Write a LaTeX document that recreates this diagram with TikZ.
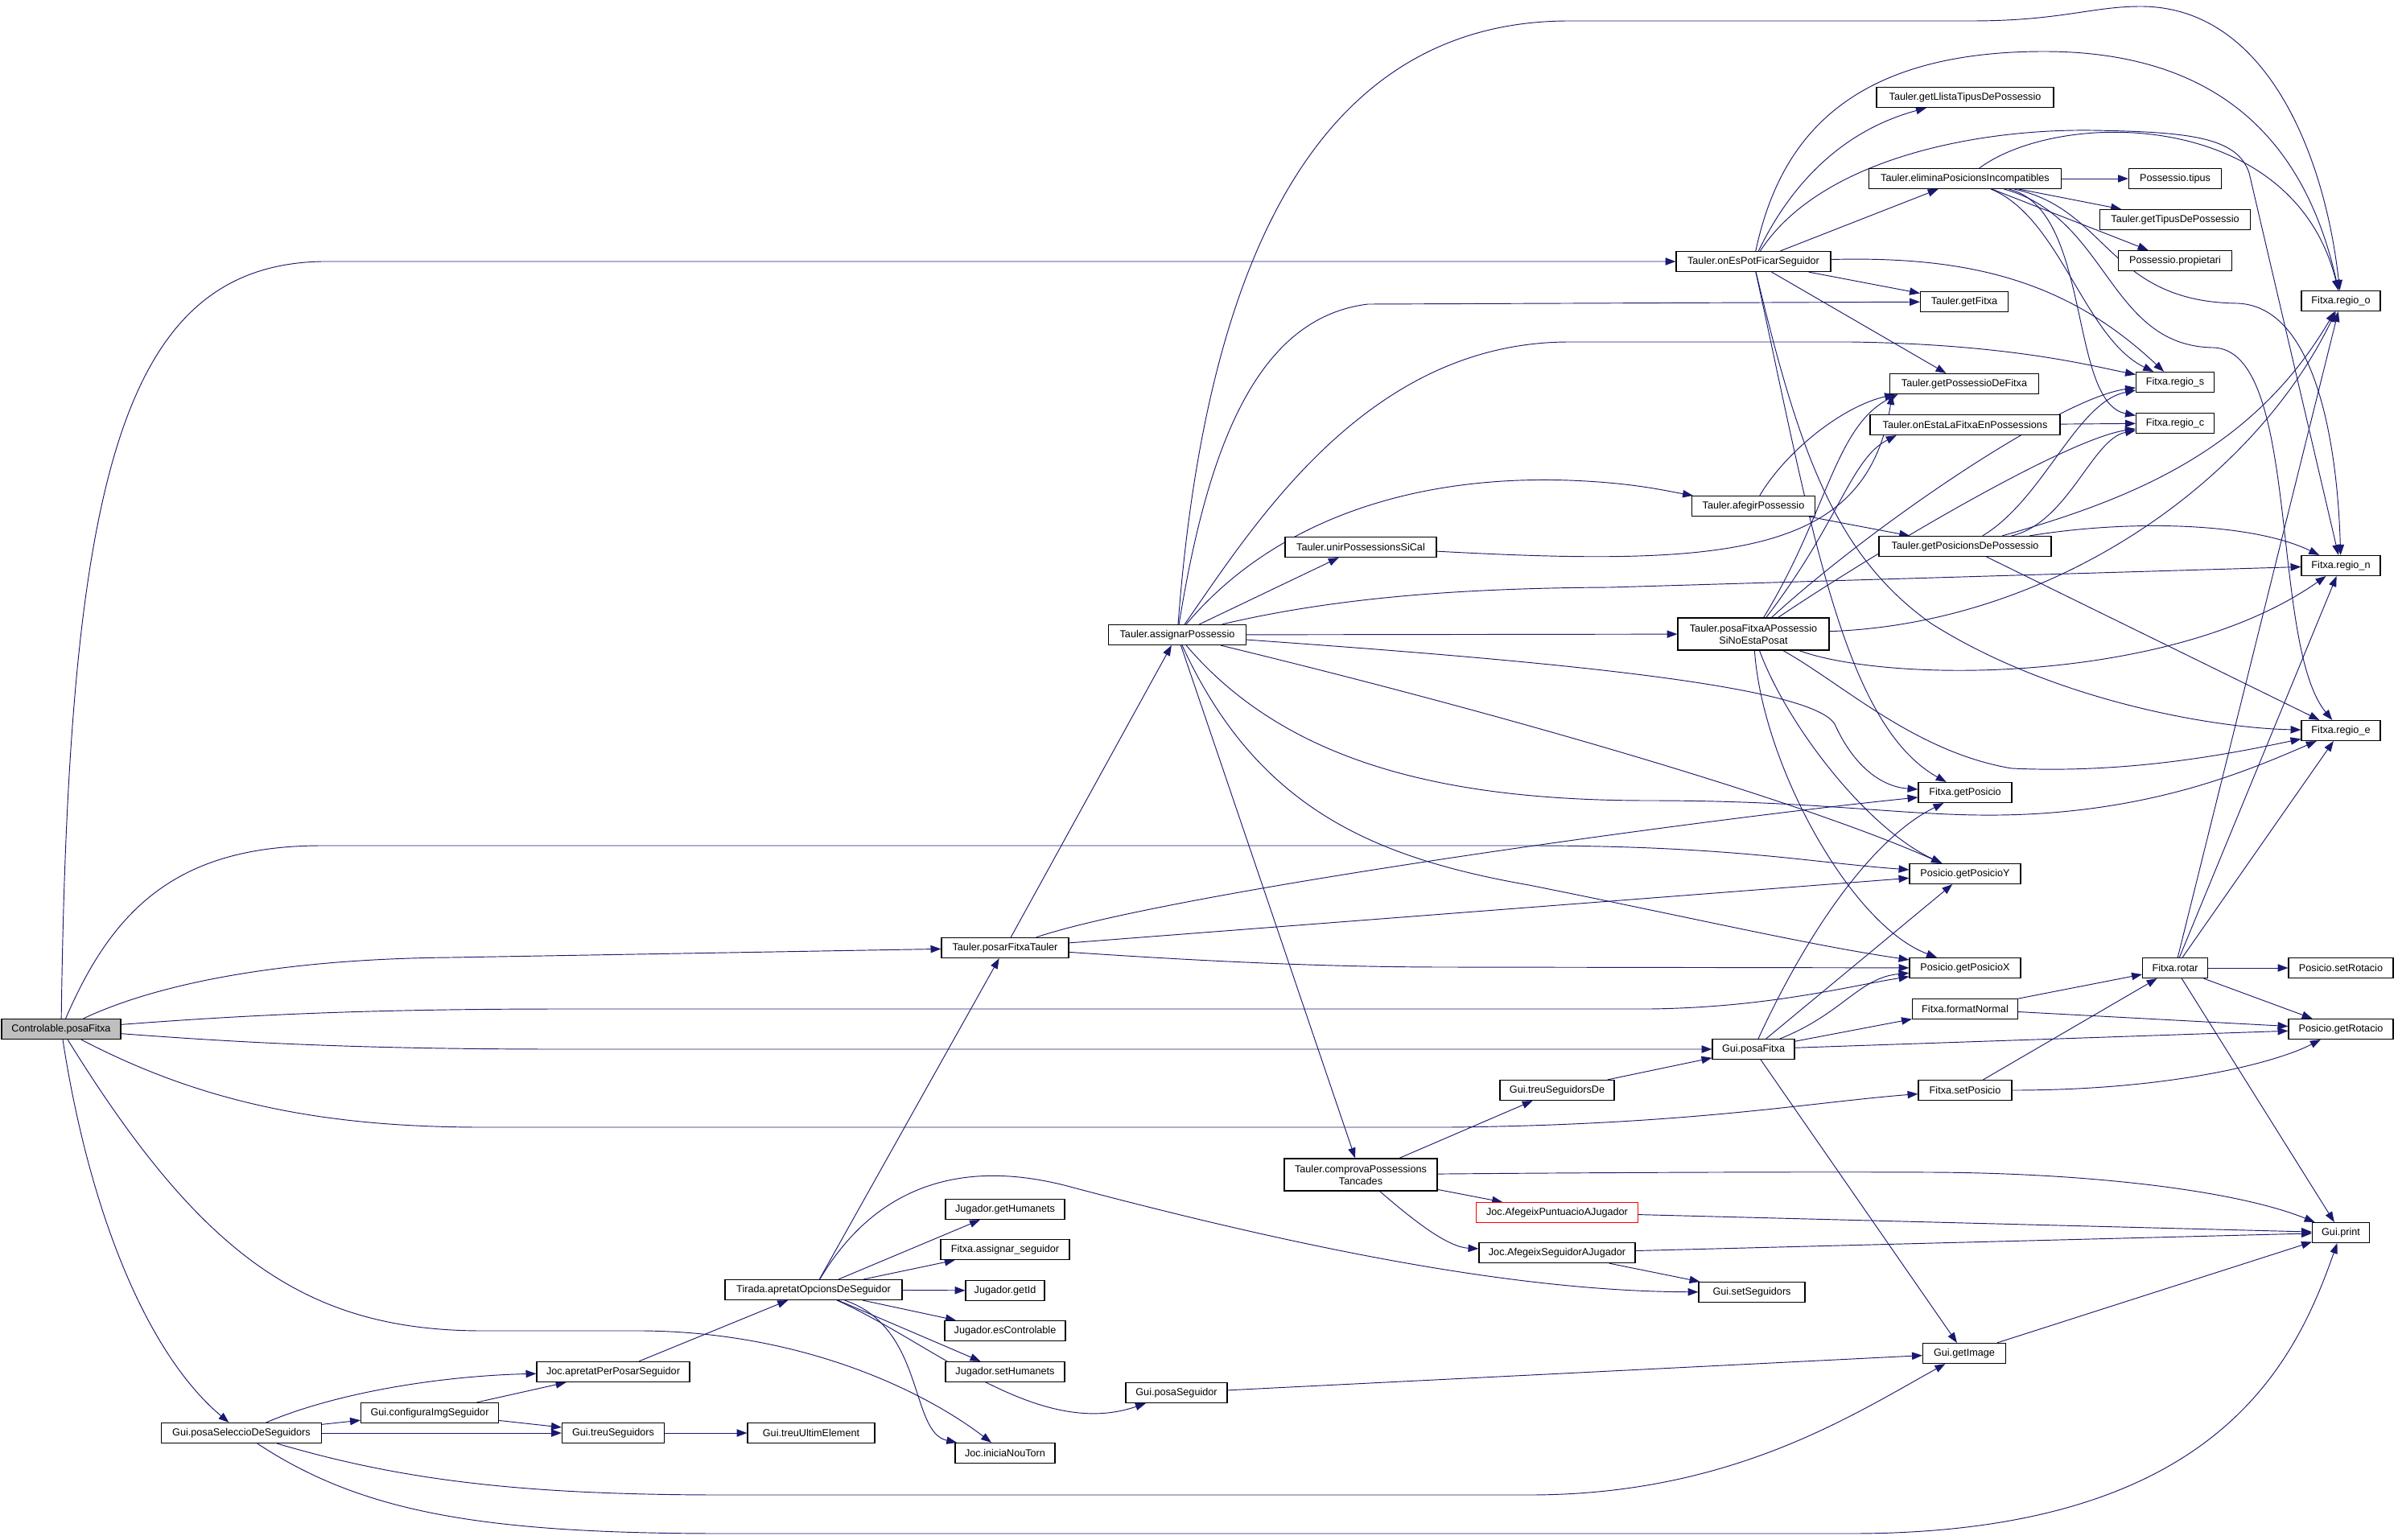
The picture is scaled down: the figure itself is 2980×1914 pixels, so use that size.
\documentclass[tikz,border=0pt]{standalone}
\usepackage{fontspec}
\setmainfont{Liberation Sans}
\usetikzlibrary{arrows.meta,backgrounds}
\definecolor{edgeblue}{HTML}{191970}
\tikzset{
  func/.style={draw=black, line width=1pt, fill=white, inner xsep=2pt, inner ysep=0pt,
    minimum height=0.75cm, font=\fontsize{10.8}{12.8}\selectfont},
  func2/.style={func, minimum height=1.2cm, align=center},
  callarrow/.style={draw=edgeblue, line width=0.8pt, -{Triangle[length=11pt,width=8pt]}},
}
\begin{document}
\begin{tikzpicture}[x=0.03cm, y=-0.03cm]
  \useasboundingbox (0,0) rectangle (2980,1914);
  % callers
  \node[func, fill=black!25, minimum width=4.44cm] (C) at (76,1279) {Controlable.posaFitxa};
  \node[func, minimum width=5.97cm] (GPS) at (300,1781) {Gui.posaSeleccioDeSeguidors};
  \node[func, minimum width=5.13cm] (cfg) at (534,1756) {Gui.configuraImgSeguidor};
  \node[func, minimum width=5.7cm] (apr) at (762,1705) {Joc.apretatPerPosarSeguidor};
  \node[func, minimum width=3.81cm] (treuS) at (762,1781) {Gui.treuSeguidors};
  \node[func, minimum width=4.74cm] (treuU) at (1008,1781) {Gui.treuUltimElement};
  \node[func, minimum width=6.6cm] (T) at (1011,1603) {Tirada.apretatOpcionsDeSeguidor};
  \node[func, minimum width=4.74cm] (P) at (1249,1178) {Tauler.posarFitxaTauler};
  \node[func, minimum width=5.13cm] (A) at (1463,789) {Tauler.assignarPossessio};
  \node[func, minimum width=5.64cm] (unir) at (1691,680) {Tauler.unirPossessionsSiCal};
  \node[func2, minimum width=5.7cm] (CT) at (1691,1460) {Tauler.comprovaPossessions\\Tancades};
  % Jugador column
  \node[func, minimum width=4.44cm] (jgh) at (1249,1503) {Jugador.getHumanets};
  \node[func, minimum width=4.8cm] (asg) at (1249,1553) {Fitxa.assignar\_seguidor};
  \node[func, minimum width=2.94cm] (gid) at (1249,1604) {Jugador.getId};
  \node[func, minimum width=4.5cm] (esc) at (1249,1654) {Jugador.esControlable};
  \node[func, minimum width=4.44cm] (jsh) at (1249,1705) {Jugador.setHumanets};
  \node[func, minimum width=3.72cm] (ini) at (1249,1806) {Joc.iniciaNouTorn};
  \node[func, minimum width=3.78cm] (pseg) at (1462,1731) {Gui.posaSeguidor};
  \node[func, minimum width=4.26cm] (tsd) at (1935,1355) {Gui.treuSeguidorsDe};
  \node[func, draw=red, minimum width=6.03cm] (apj) at (1935,1507) {Joc.AfegeixPuntuacioAJugador};
  \node[func, minimum width=5.82cm] (asj) at (1935,1557) {Joc.AfegeixSeguidorAJugador};
  % Tauler column
  \node[func, minimum width=5.76cm] (OE) at (2179,325) {Tauler.onEsPotFicarSeguidor};
  \node[func, minimum width=4.59cm] (AF) at (2179,629) {Tauler.afegirPossessio};
  \node[func2, minimum width=5.64cm] (PF) at (2179,788) {Tauler.posaFitxaAPossessio\\SiNoEstaPosat};
  \node[func, minimum width=3.06cm] (GF) at (2179,1304) {Gui.posaFitxa};
  \node[func, minimum width=3.96cm] (ss) at (2177,1606) {Gui.setSeguidors};
  \node[func, minimum width=6.6cm] (gll) at (2442,121) {Tauler.getLlistaTipusDePossessio};
  \node[func, minimum width=7.17cm] (EP) at (2442,222) {Tauler.eliminaPosicionsIncompatibles};
  \node[func, minimum width=3.27cm] (gfx) at (2441,375) {Tauler.getFitxa};
  \node[func, minimum width=5.55cm] (gpf) at (2441,477) {Tauler.getPossessioDeFitxa};
  \node[func, minimum width=7.08cm] (oel) at (2442,528) {Tauler.onEstaLaFitxaEnPossessions};
  \node[func, minimum width=6.42cm] (GP) at (2442,679) {Tauler.getPosicionsDePossessio};
  \node[func, minimum width=3.48cm] (gpo) at (2442,985) {Fitxa.getPosicio};
  \node[func, minimum width=4.14cm] (gpy) at (2442,1086) {Posicio.getPosicioY};
  \node[func, minimum width=4.14cm] (gpx) at (2442,1203) {Posicio.getPosicioX};
  \node[func, minimum width=3.93cm] (fnorm) at (2442,1254) {Fitxa.formatNormal};
  \node[func, minimum width=3.48cm] (sp) at (2442,1355) {Fitxa.setPosicio};
  \node[func, minimum width=3.09cm] (gim) at (2441,1682) {Gui.getImage};
  % leaves
  \node[func, minimum width=3.45cm] (tip) at (2703,222) {Possessio.tipus};
  \node[func, minimum width=5.61cm] (gtp) at (2703,273) {Tauler.getTipusDePossessio};
  \node[func, minimum width=4.23cm] (prop) at (2703,324) {Possessio.propietari};
  \node[func, minimum width=2.91cm] (rs) at (2703,475) {Fitxa.regio\_s};
  \node[func, minimum width=2.91cm] (rc) at (2703,526) {Fitxa.regio\_c};
  \node[func, minimum width=2.43cm] (rot) at (2703,1203) {Fitxa.rotar};
  \node[func, minimum width=2.94cm] (ro) at (2909,374) {Fitxa.regio\_o};
  \node[func, minimum width=2.94cm] (rn) at (2909,703) {Fitxa.regio\_n};
  \node[func, minimum width=2.94cm] (re) at (2909,908) {Fitxa.regio\_e};
  \node[func, minimum width=3.9cm] (sr) at (2909,1203) {Posicio.setRotacio};
  \node[func, minimum width=3.9cm] (gr) at (2909,1279) {Posicio.getRotacio};
  \node[func, minimum width=2.13cm] (prn) at (2909,1532) {Gui.print};

  \begin{scope}[on background layer]
  % straight calls
  \foreach \a/\b in {GPS/cfg, GPS/treuS, cfg/apr, cfg/treuS, apr/T, treuS/treuU, T/P, T/jgh,
      T/asg, T/gid, T/esc, T/jsh, P/A, P/gpy, A/unir, A/PF, A/CT, CT/tsd, CT/apj, tsd/GF,
      apj/prn, asj/prn, asj/ss, OE/EP, OE/gfx, OE/gpf, EP/tip, EP/gtp, EP/prop, AF/GP, oel/rc,
      GP/re, GF/gpy, GF/fnorm, GF/gr, GF/gim, fnorm/rot, fnorm/gr, sp/rot, rot/ro, rot/rn,
      rot/re, rot/sr, rot/gr, rot/prn, pseg/gim, gim/prn}
    \draw[callarrow] (\a) -- (\b);
  % Controlable.posaFitxa
  \draw[callarrow] (C) .. controls (85,600) and (150,330) .. (400,325) -- (OE);
  \draw[callarrow] (C) .. controls (140,1130) and (220,1051) .. (400,1051) -- (1900,1051) .. controls (2150,1051) and (2250,1072) .. (gpy);
  \draw[callarrow] (C) .. controls (190,1225) and (340,1192) .. (560,1190) -- (P);
  \draw[callarrow] (C) .. controls (300,1262) and (450,1254) .. (700,1254) -- (2050,1254) .. controls (2200,1252) and (2300,1225) .. (gpx);
  \draw[callarrow] (C) .. controls (300,1296) and (450,1304) .. (700,1304) -- (GF);
  \draw[callarrow] (C) .. controls (250,1370) and (400,1401) .. (600,1401) -- (1800,1401) .. controls (2100,1398) and (2250,1370) .. (sp);
  \draw[callarrow] (C) .. controls (250,1560) and (380,1654) .. (600,1654) -- (800,1654) .. controls (1000,1656) and (1150,1730) .. (ini);
  \draw[callarrow] (C) .. controls (110,1500) and (180,1680) .. (GPS);
  % Gui.posaSeleccioDeSeguidors
  \draw[callarrow] (GPS) .. controls (420,1730) and (550,1710) .. (apr);
  \draw[callarrow] (GPS) .. controls (500,1840) and (650,1858) .. (900,1858) -- (1900,1858) .. controls (2150,1858) and (2300,1760) .. (gim);
  \draw[callarrow] (GPS) .. controls (450,1880) and (600,1906) .. (900,1906) -- (2300,1906) .. controls (2750,1906) and (2850,1700) .. (prn);
  % Tirada
  \draw[callarrow] (T) .. controls (1160,1670) and (1290,1790) .. (pseg);
  \draw[callarrow] (T) .. controls (1150,1650) and (1130,1780) .. (ini);
  \draw[callarrow] (T) .. controls (1090,1470) and (1200,1440) .. (1330,1475) .. controls (1650,1560) and (1900,1605) .. (ss);
  % posarFitxaTauler
  \draw[callarrow] (P) .. controls (1450,1110) and (2100,1020) .. (gpo);
  \draw[callarrow] (P) .. controls (1500,1195) and (1650,1202) .. (1800,1202) -- (gpx);
  % assignarPossessio
  \draw[callarrow] (A) .. controls (1500,300) and (1650,26) .. (1950,26) -- (2450,26) .. controls (2560,26) and (2600,8) .. (2660,8) .. controls (2820,8) and (2890,200) .. (ro);
  \draw[callarrow] (A) .. controls (1500,560) and (1560,395) .. (1700,378) -- (gfx);
  \draw[callarrow] (A) .. controls (1560,650) and (1700,425) .. (1950,425) -- (2300,425) .. controls (2500,428) and (2600,455) .. (rs);
  \draw[callarrow] (A) .. controls (1580,650) and (1750,590) .. (1950,597) .. controls (2030,600) and (2070,610) .. (AF);
  \draw[callarrow] (A) .. controls (1650,745) and (1800,731) .. (2000,730) -- (rn);
  \draw[callarrow] (A) .. controls (1900,820) and (2250,850) .. (2280,900) .. controls (2305,955) and (2340,978) .. (gpo);
  \draw[callarrow] (A) .. controls (1900,895) and (2250,1000) .. (gpy);
  \draw[callarrow] (A) .. controls (1600,950) and (1800,995) .. (2050,995) .. controls (2300,995) and (2400,1022) .. (2550,1010) .. controls (2700,998) and (2800,955) .. (re);
  \draw[callarrow] (A) .. controls (1560,1000) and (1700,1065) .. (1900,1100) .. controls (2100,1140) and (2250,1175) .. (gpx);
  % onEsPotFicarSeguidor
  \draw[callarrow] (OE) .. controls (2220,240) and (2280,165) .. (gll);
  \draw[callarrow] (OE) .. controls (2210,180) and (2290,64) .. (2540,64) .. controls (2780,64) and (2870,200) .. (ro);
  \draw[callarrow] (OE) .. controls (2260,200) and (2450,160) .. (2600,162) .. controls (2720,164) and (2780,170) .. (2795,215) -- (rn);
  \draw[callarrow] (OE) .. controls (2450,318) and (2570,350) .. (rs);
  \draw[callarrow] (OE) .. controls (2250,650) and (2290,900) .. (gpo);
  \draw[callarrow] (OE) .. controls (2235,560) and (2280,690) .. (2400,775) .. controls (2550,870) and (2750,905) .. (re);
  % eliminaPosicionsIncompatibles
  \draw[callarrow] (EP) .. controls (2560,270) and (2590,420) .. (rs);
  \draw[callarrow] (EP) .. controls (2600,260) and (2570,500) .. (rc);
  \draw[callarrow] (EP) .. controls (2620,260) and (2620,375) .. (2780,377) .. controls (2880,380) and (2905,560) .. (rn);
  \draw[callarrow] (EP) .. controls (2620,270) and (2620,430) .. (2750,432) .. controls (2860,434) and (2820,800) .. (re);
  \draw[callarrow] (EP) .. controls (2560,135) and (2850,135) .. (ro);
  % afegirPossessio, unirPossessionsSiCal
  \draw[callarrow] (AF) .. controls (2220,560) and (2290,505) .. ([xshift=6pt]gpf.south west);
  \draw[callarrow] (unir) .. controls (2150,705) and (2320,690) .. ([xshift=3pt]gpf.south west);
  % posaFitxaAPossessioSiNoEstaPosat
  \draw[callarrow] (PF) .. controls (2270,640) and (2280,530) .. ([xshift=9pt]gpf.south west);
  \draw[callarrow] (PF) .. controls (2285,650) and (2300,570) .. ([xshift=1cm]oel.south west);
  \draw[callarrow] (PF) .. controls (2330,650) and (2560,495) .. (rs);
  \draw[callarrow] (PF) .. controls (2340,680) and (2570,545) .. (rc);
  \draw[callarrow] (PF) .. controls (2550,775) and (2800,600) .. (ro);
  \draw[callarrow] (PF) .. controls (2350,850) and (2700,850) .. (rn);
  \draw[callarrow] (PF) .. controls (2290,850) and (2380,935) .. (2500,955) .. controls (2650,962) and (2780,935) .. (re);
  \draw[callarrow] (PF) .. controls (2220,900) and (2320,1030) .. (gpy);
  \draw[callarrow] (PF) .. controls (2190,950) and (2300,1150) .. (gpx);
  % getPosicionsDePossessio
  \draw[callarrow] (GP) .. controls (2540,620) and (2580,500) .. (rs);
  \draw[callarrow] (GP) .. controls (2570,650) and (2600,545) .. (rc);
  \draw[callarrow] (GP) .. controls (2650,620) and (2800,560) .. (ro);
  \draw[callarrow] (GP) .. controls (2650,645) and (2800,650) .. (rn);
  % comprovaPossessionsTancades
  \draw[callarrow] (CT) .. controls (1760,1520) and (1800,1550) .. (asj);
  \draw[callarrow] (CT) .. controls (1900,1458) and (2200,1456) .. (2400,1457) .. controls (2600,1458) and (2780,1480) .. (prn);
  % Gui.posaFitxa, setPosicio
  \draw[callarrow] (GF) .. controls (2250,1150) and (2330,1040) .. (gpo);
  \draw[callarrow] (GF) .. controls (2290,1260) and (2310,1215) .. (gpx);
  \draw[callarrow] (sp) .. controls (2700,1355) and (2830,1320) .. (gr);
  \end{scope}
\end{tikzpicture}
\end{document}
